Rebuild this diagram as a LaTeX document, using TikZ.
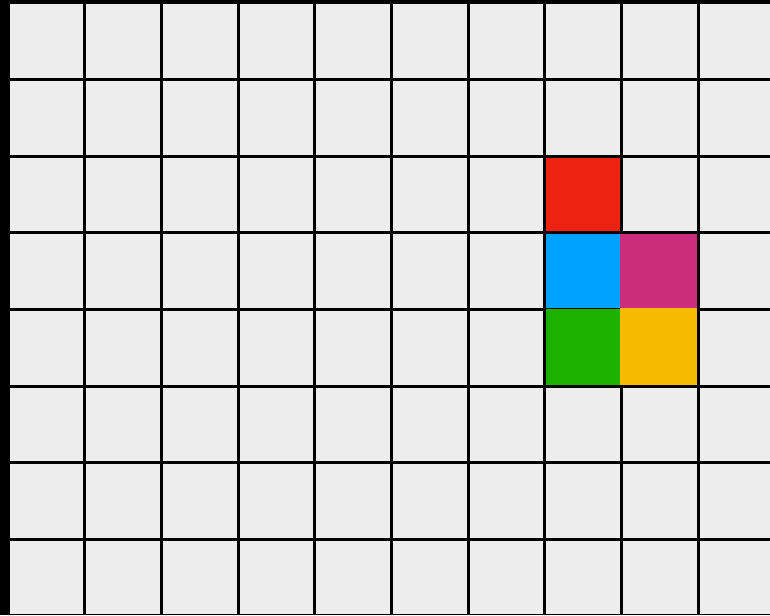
\documentclass[tikz,border=0pt]{standalone}
\usepackage{tikz}
\definecolor{gris}{HTML}{EDEDED}
\definecolor{rouge}{HTML}{EE2210}
\definecolor{bleu}{HTML}{00A2FF}
\definecolor{magenta}{HTML}{CC2C7C}
\definecolor{vert}{HTML}{1DB100}
\definecolor{jaune}{HTML}{F8BA00}
\begin{document}
\begin{tikzpicture}[x=1pt, y=-1pt, case/.style={fill=gris}]
  \useasboundingbox (0,0) rectangle (770,615);
  \fill[black] (0,0) rectangle (770,615);

  % Cases de la grille
  \foreach \i in {0,...,9}
    \foreach \j in {0,...,7}
      \fill[case] (9.5+76.7*\i, 4.5+76.6*\j) rectangle ++(73.7,73.6);

  % Cases coloriees (colonne, ligne, debord gauche, debord haut)
  \foreach \i/\j/\c/\dx/\dy in {7/2/rouge/0/0, 7/3/bleu/0/0, 8/3/magenta/3/0, 7/4/vert/0/2, 8/4/jaune/3/3}
    \fill[\c] (9.5+76.7*\i-\dx, 4.5+76.6*\j-\dy) rectangle (83.2+76.7*\i, 78.1+76.6*\j);
\end{tikzpicture}
\end{document}
